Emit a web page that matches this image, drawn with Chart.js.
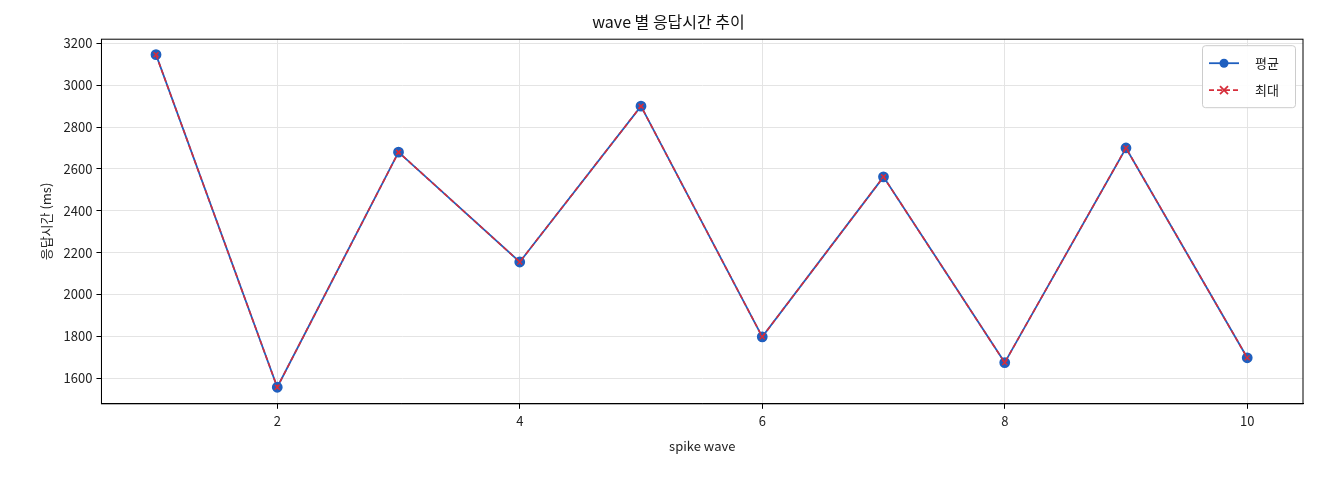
<!DOCTYPE html>
<html>
<head>
<meta charset="utf-8">
<script src="https://cdn.jsdelivr.net/npm/chart.js@4"></script>
<style>
  body { margin: 0; background: #fff; }
  #wrap { width: 1320px; height: 480px; }
</style>
</head>
<body>
<div id="wrap"><canvas id="myChart"></canvas></div>
<script>
const waves = [1, 2, 3, 4, 5, 6, 7, 8, 9, 10];
const avgMs = [3146, 1556, 2680, 2155, 2900, 1797, 2562, 1674, 2700, 1697];
const maxMs = [3146, 1556, 2680, 2155, 2900, 1797, 2562, 1674, 2700, 1697];
const xTicks = [2, 4, 6, 8, 10];
const yTicks = [1600, 1800, 2000, 2200, 2400, 2600, 2800, 3000, 3200];

const FONT = "'Noto Sans CJK KR', 'DejaVu Sans', sans-serif";
Chart.defaults.font.family = FONT;
Chart.defaults.color = "#222";

// legend box drawn inside the plot, top right
const innerLegend = {
  id: "innerLegend",
  afterDraw(chart) {
    const ctx = chart.ctx;
    const a = chart.chartArea;
    const w = 93, h = 62;
    const x = a.right - w - 8, y = a.top + 6;
    ctx.save();
    ctx.fillStyle = "rgba(255,255,255,0.9)";
    ctx.strokeStyle = "#ccc";
    ctx.lineWidth = 1;
    ctx.beginPath();
    ctx.roundRect(x + 0.5, y + 0.5, w, h, 3);
    ctx.fill();
    ctx.stroke();
    ctx.font = "13px " + FONT;
    ctx.textBaseline = "middle";
    const items = [
      { label: "평균", color: "#1f5fbf", dash: [], mark: "circle" },
      { label: "최대", color: "#d62d3a", dash: [5, 3], mark: "x" },
    ];
    items.forEach((it, i) => {
      const cy = y + 18 + i * 27;
      ctx.strokeStyle = it.color;
      ctx.lineWidth = 1.8;
      ctx.setLineDash(it.dash);
      ctx.beginPath();
      ctx.moveTo(x + 7, cy);
      ctx.lineTo(x + 37, cy);
      ctx.stroke();
      ctx.setLineDash([]);
      if (it.mark === "circle") {
        ctx.fillStyle = it.color;
        ctx.beginPath();
        ctx.arc(x + 22, cy, 4.5, 0, Math.PI * 2);
        ctx.fill();
      } else {
        ctx.beginPath();
        ctx.moveTo(x + 18, cy - 4); ctx.lineTo(x + 26, cy + 4);
        ctx.moveTo(x + 26, cy - 4); ctx.lineTo(x + 18, cy + 4);
        ctx.stroke();
      }
      ctx.fillStyle = "#222";
      ctx.fillText(it.label, x + 53, cy);
    });
    ctx.restore();
  },
};

const frame = {
  id: "frame",
  afterDraw(chart) {
    const a = chart.chartArea, ctx = chart.ctx;
    ctx.save();
    ctx.strokeStyle = "#000";
    ctx.lineWidth = 1;
    ctx.strokeRect(a.left, a.top, a.right - a.left, a.bottom - a.top);
    ctx.restore();
  },
};

new Chart(document.getElementById("myChart"), {
  type: "line",
  data: {
    datasets: [
      {
        label: "평균",
        data: waves.map((w, i) => ({ x: w, y: avgMs[i] })),
        borderColor: "#1f5fbf",
        backgroundColor: "#1f5fbf",
        borderWidth: 1.8,
        pointRadius: 4.5,
        pointStyle: "circle",
        order: 2,
      },
      {
        label: "최대",
        data: waves.map((w, i) => ({ x: w, y: maxMs[i] })),
        borderColor: "#d62d3a",
        backgroundColor: "#d62d3a",
        borderWidth: 1.6,
        borderDash: [5, 3],
        pointRadius: 3.5,
        pointStyle: "crossRot",
        pointBorderWidth: 1.5,
        order: 1,
      },
    ],
  },
  options: {
    responsive: true,
    maintainAspectRatio: false,
    animation: false,
    layout: { padding: { top: 12, right: 17, left: 34, bottom: 22 } },
    plugins: {
      legend: { display: false },
      tooltip: { enabled: false },
      title: {
        display: true,
        text: "wave 별 응답시간 추이",
        font: { size: 16, weight: "normal" },
        color: "#111",
        padding: { top: 0, bottom: 8 },
      },
    },
    scales: {
      x: {
        type: "linear",
        min: 0.55,
        max: 10.46,
        afterBuildTicks: (s) => { s.ticks = xTicks.map((v) => ({ value: v })); },
        grid: { color: "#e4e4e4", tickColor: "#000", tickLength: 5 },
        border: { color: "#000" },
        ticks: { font: { size: 13 }, color: "#222", padding: 4, callback: (v) => String(v) },
        title: { display: true, text: "spike wave", font: { size: 13 }, color: "#222", padding: { top: 6 } },
      },
      y: {
        min: 1477,
        max: 3220,
        afterBuildTicks: (s) => { s.ticks = yTicks.map((v) => ({ value: v })); },
        grid: { color: "#e4e4e4", tickColor: "#000", tickLength: 5 },
        border: { color: "#000" },
        ticks: { font: { size: 13 }, color: "#222", padding: 4, callback: (v) => String(v) },
        title: { display: true, text: "응답시간 (ms)", font: { size: 13 }, color: "#222", padding: { bottom: 6 } },
      },
    },
  },
  plugins: [innerLegend, frame],
});
</script>
</body>
</html>
